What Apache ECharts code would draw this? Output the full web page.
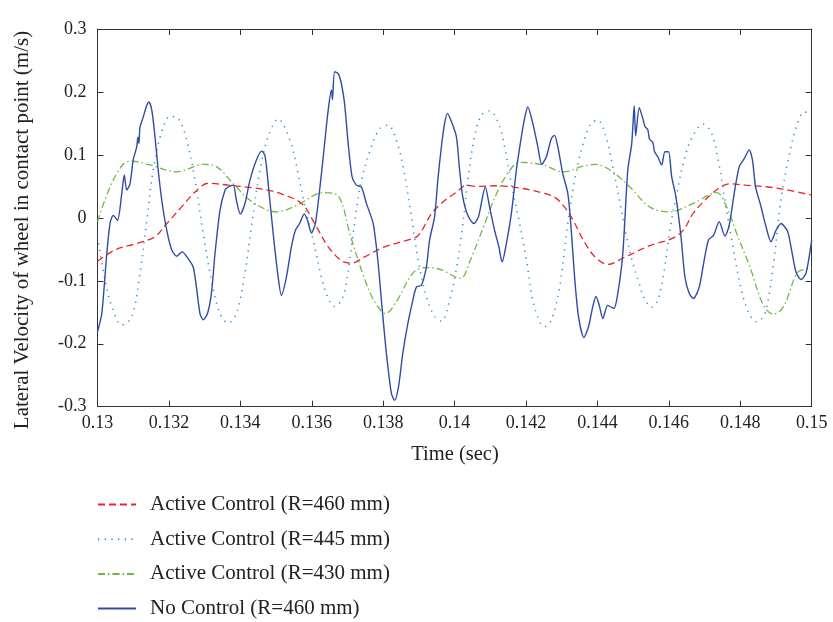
<!DOCTYPE html>
<html>
<head>
<meta charset="utf-8">
<script src="https://cdn.jsdelivr.net/npm/echarts@6/dist/echarts.min.js"></script>
<style>html,body{margin:0;padding:0;background:#fff}#c{width:833px;height:622px}</style>
</head>
<body>
<div id="c"></div>
<script>
const xTicks = [0.13,0.132,0.134,0.136,0.138,0.14,0.142,0.144,0.146,0.148,0.15];
const yTicks = [-0.3,-0.2,-0.1,0,0.1,0.2,0.3];
const seriesNames = ['Active Control (R=460 mm)','Active Control (R=445 mm)','Active Control (R=430 mm)','No Control (R=460 mm)'];

const red_t = [0.13,0.13049,0.13114,0.13161,0.13194,0.13235,0.13273,0.1331,0.13366,0.13431,0.13487,0.13506,0.13571,0.13608,0.13646,0.13683,0.13711,0.13748,0.13804,0.1387,0.13898,0.13936,0.13973,0.14006,0.14033,0.14057,0.14113,0.14187,0.14243,0.1428,0.14308,0.14332,0.1436,0.14393,0.1443,0.14468,0.14519,0.14552,0.14608,0.1464,0.14668,0.1471,0.14748,0.14771,0.14813,0.14878,0.14934,0.15];
const red_v = [-0.069,-0.051,-0.04,-0.03,-0.009,0.017,0.041,0.055,0.052,0.048,0.043,0.04,0.023,-0.009,-0.046,-0.068,-0.072,-0.062,-0.046,-0.035,-0.028,0.007,0.028,0.041,0.052,0.05,0.051,0.047,0.04,0.033,0.017,-0.004,-0.035,-0.062,-0.074,-0.065,-0.051,-0.043,-0.033,-0.02,0.007,0.033,0.05,0.054,0.052,0.049,0.044,0.036];

const dot_t = [0.13,0.13021,0.1304,0.13068,0.13096,0.13119,0.13138,0.13156,0.1318,0.13203,0.13226,0.1325,0.13273,0.13296,0.13319,0.13343,0.13366,0.13389,0.13413,0.13431,0.13455,0.13478,0.13506,0.13539,0.13562,0.13581,0.13604,0.13627,0.13646,0.13664,0.13688,0.13706,0.13725,0.13739,0.13767,0.13791,0.13814,0.13837,0.13856,0.13875,0.13898,0.13921,0.13944,0.13963,0.13986,0.14006,0.1402,0.14037,0.14056,0.14075,0.14098,0.14121,0.1414,0.14159,0.14182,0.14201,0.14219,0.14238,0.14252,0.14271,0.14294,0.14317,0.14336,0.1436,0.14382,0.14401,0.14424,0.14443,0.14462,0.1448,0.14499,0.14517,0.14531,0.14552,0.14569,0.14587,0.14606,0.14626,0.14645,0.14668,0.14696,0.1472,0.14738,0.14757,0.14776,0.14799,0.14822,0.14846,0.14869,0.14892,0.14911,0.14934,0.14957,0.1498,0.15];
const dot_v = [-0.03,-0.099,-0.141,-0.17,-0.157,-0.088,-0.004,0.076,0.137,0.161,0.158,0.123,0.06,-0.025,-0.099,-0.152,-0.167,-0.152,-0.088,-0.014,0.076,0.129,0.157,0.123,0.07,0.017,-0.035,-0.094,-0.128,-0.141,-0.125,-0.067,0.012,0.06,0.113,0.142,0.147,0.123,0.081,0.017,-0.067,-0.125,-0.157,-0.164,-0.131,-0.078,-0.025,0.06,0.129,0.163,0.17,0.153,0.113,0.054,-0.009,-0.067,-0.131,-0.165,-0.173,-0.162,-0.11,-0.009,0.06,0.118,0.15,0.155,0.129,0.081,0.028,-0.025,-0.072,-0.104,-0.128,-0.142,-0.131,-0.083,-0.009,0.049,0.097,0.131,0.149,0.134,0.092,0.028,-0.035,-0.104,-0.149,-0.165,-0.152,-0.078,0.017,0.092,0.144,0.168,0.166];

const grn_t = [0.13,0.13035,0.13073,0.13096,0.13147,0.13222,0.13297,0.13334,0.13381,0.13427,0.13502,0.13558,0.13633,0.13672,0.13709,0.13746,0.13774,0.13807,0.13839,0.13886,0.13923,0.1396,0.14016,0.14044,0.14081,0.14118,0.14155,0.14183,0.14248,0.14304,0.1436,0.14393,0.14435,0.14491,0.14547,0.14603,0.14668,0.14734,0.14762,0.1479,0.14827,0.14865,0.14893,0.14921,0.14958,0.14977,0.15];
const grn_v = [-0.006,0.049,0.086,0.09,0.084,0.073,0.085,0.081,0.054,0.028,0.0095,0.02,0.04,0.036,-0.03,-0.094,-0.131,-0.152,-0.131,-0.086,-0.079,-0.082,-0.096,-0.067,-0.014,0.039,0.076,0.088,0.084,0.073,0.082,0.085,0.076,0.049,0.017,0.0095,0.023,0.04,0.017,-0.025,-0.078,-0.139,-0.153,-0.141,-0.088,-0.082,-0.08];

const blu_t = [0.13,0.13012,0.13026,0.13035,0.13044,0.13056,0.13068,0.13075,0.13082,0.13091,0.131,0.1311,0.13113,0.13116,0.13119,0.13128,0.13138,0.13144,0.13152,0.13161,0.1317,0.1318,0.13194,0.13208,0.13222,0.13237,0.13254,0.13268,0.13277,0.13287,0.13296,0.13308,0.13319,0.13329,0.13343,0.13357,0.13366,0.1338,0.13389,0.134,0.13413,0.13427,0.13445,0.1346,0.13469,0.13478,0.13492,0.13505,0.13515,0.13529,0.13543,0.13554,0.13566,0.13579,0.13588,0.13599,0.1361,0.13622,0.13634,0.13646,0.13655,0.13658,0.13664,0.13674,0.13683,0.13692,0.13702,0.13713,0.13725,0.13739,0.13753,0.13772,0.13785,0.13795,0.13809,0.13823,0.13832,0.13843,0.13855,0.13869,0.13883,0.13893,0.13907,0.13921,0.1393,0.13944,0.13953,0.13963,0.13972,0.1398,0.13991,0.14005,0.14014,0.14023,0.14037,0.14054,0.14067,0.14086,0.14098,0.14112,0.14124,0.14133,0.14145,0.14159,0.14173,0.14187,0.14196,0.14205,0.14219,0.14233,0.14244,0.14257,0.14271,0.1428,0.14289,0.14303,0.14317,0.14326,0.14336,0.14347,0.14362,0.14375,0.14387,0.14396,0.14406,0.14415,0.14429,0.14446,0.14457,0.14471,0.14485,0.14496,0.14503,0.14507,0.14517,0.14527,0.14533,0.14541,0.14546,0.14555,0.1456,0.14569,0.1458,0.14589,0.14599,0.14608,0.1462,0.14634,0.14645,0.14657,0.14669,0.14685,0.14699,0.14711,0.14725,0.14741,0.14757,0.14769,0.14783,0.14797,0.14811,0.14825,0.14834,0.14843,0.14857,0.14872,0.14886,0.149,0.14914,0.14932,0.14942,0.14956,0.1497,0.14984,0.15];
const blu_v = [-0.181,-0.152,-0.057,-0.009,0.004,-0.004,0.039,0.068,0.044,0.054,0.092,0.113,0.128,0.118,0.144,0.16,0.179,0.184,0.171,0.129,0.076,0.028,-0.02,-0.051,-0.061,-0.054,-0.065,-0.078,-0.11,-0.152,-0.162,-0.152,-0.12,-0.057,0.012,0.044,0.049,0.052,0.028,0.006,0.023,0.06,0.092,0.106,0.099,0.054,-0.025,-0.09,-0.123,-0.094,-0.046,-0.02,-0.009,0.006,-0.004,-0.024,-0.009,0.044,0.107,0.171,0.203,0.188,0.232,0.229,0.213,0.181,0.118,0.065,0.052,0.049,0.023,-0.009,-0.067,-0.131,-0.215,-0.279,-0.29,-0.268,-0.215,-0.168,-0.131,-0.11,-0.107,-0.078,-0.035,0.002,0.06,0.113,0.15,0.166,0.153,0.129,0.076,0.033,0.004,-0.009,0.002,0.049,0.017,-0.02,-0.046,-0.07,-0.041,0.007,0.076,0.129,0.158,0.176,0.15,0.113,0.085,0.097,0.126,0.131,0.113,0.07,0.039,-0.014,-0.094,-0.157,-0.19,-0.173,-0.141,-0.125,-0.141,-0.16,-0.139,-0.144,-0.12,-0.057,0.076,0.118,0.178,0.13,0.175,0.158,0.145,0.14,0.125,0.12,0.105,0.097,0.084,0.105,0.105,0.065,0.033,-0.03,-0.094,-0.12,-0.128,-0.11,-0.067,-0.035,-0.028,-0.006,-0.029,-0.012,0.039,0.081,0.094,0.108,0.092,0.049,0.02,-0.014,-0.038,-0.02,-0.009,-0.021,-0.046,-0.086,-0.098,-0.088,-0.035];

function pairs(t, v) { return t.map((x, i) => [x, v[i]]); }

const FONT = '"Liberation Serif", "DejaVu Serif", serif';
const chart = echarts.init(document.getElementById('c'), null, {renderer: 'canvas'});
const axisLineStyle = {color: '#333', width: 1};
chart.setOption({
  animation: false,
  backgroundColor: '#fff',
  grid: {left: 97.5, right: 21.3, top: 29, bottom: 215.3, containLabel: false},
  xAxis: [{
    type: 'value', min: xTicks[0], max: xTicks[xTicks.length - 1], interval: 0.002,
    axisLine: {show: true, onZero: false, lineStyle: axisLineStyle},
    axisTick: {show: true, inside: true, length: 6, lineStyle: axisLineStyle},
    splitLine: {show: false},
    axisLabel: {margin: 8, color: '#222', fontFamily: FONT, fontSize: 18, formatter: v => String(+v.toFixed(3))}
  }, {
    type: 'value', position: 'top', min: xTicks[0], max: xTicks[xTicks.length - 1], interval: 0.002,
    axisLine: {show: true, onZero: false, lineStyle: axisLineStyle},
    axisTick: {show: true, inside: true, length: 6, lineStyle: axisLineStyle},
    splitLine: {show: false}, axisLabel: {show: false}
  }],
  yAxis: [{
    type: 'value', min: yTicks[0], max: yTicks[yTicks.length - 1], interval: 0.1,
    axisLine: {show: true, onZero: false, lineStyle: axisLineStyle},
    axisTick: {show: true, inside: true, length: 6, lineStyle: axisLineStyle},
    splitLine: {show: false},
    axisLabel: {margin: 11, color: '#222', fontFamily: FONT, fontSize: 18, formatter: v => String(+v.toFixed(1))}
  }, {
    type: 'value', position: 'right', min: yTicks[0], max: yTicks[yTicks.length - 1], interval: 0.1,
    axisLine: {show: true, onZero: false, lineStyle: axisLineStyle},
    axisTick: {show: true, inside: true, length: 6, lineStyle: axisLineStyle},
    splitLine: {show: false}, axisLabel: {show: false}
  }],
  legend: {
    orient: 'vertical', left: 97, top: 494, padding: 0, height: 128,
    itemWidth: 38, itemHeight: 14, itemGap: 13.7,
    itemStyle: {opacity: 0},
    textStyle: {fontFamily: FONT, fontSize: 21, color: '#222', lineHeight: 21, padding: [0, 0, 0, 9]},
    data: seriesNames
  },
  graphic: [
    {type: 'text', x: 22, y: 230, rotation: Math.PI / 2,
      style: {text: 'Lateral Velocity of wheel in contact point (m/s)', fontFamily: FONT, fontSize: 21, fill: '#222', align: 'center', verticalAlign: 'middle'}},
    {type: 'text', x: 455, y: 455,
      style: {text: 'Time (sec)', fontFamily: FONT, fontSize: 20.5, fill: '#222', align: 'center', verticalAlign: 'middle'}}
  ],
  series: [
    {name: seriesNames[0], type: 'line', data: pairs(red_t, red_v), showSymbol: false, symbol: 'none', smooth: 0.35,
      lineStyle: {color: '#e8262a', width: 1.3, type: [7, 4]}, itemStyle: {color: '#e8262a'}, z: 3},
    {name: seriesNames[1], type: 'line', data: pairs(dot_t, dot_v), showSymbol: false, symbol: 'none', smooth: 0.35,
      lineStyle: {color: '#2a8fd8', width: 1.6, type: [1.2, 5.5]}, itemStyle: {color: '#2a8fd8'}, z: 2},
    {name: seriesNames[2], type: 'line', data: pairs(grn_t, grn_v), showSymbol: false, symbol: 'none', smooth: 0.35,
      lineStyle: {color: '#6cbb3c', width: 1.3, type: [7, 3, 1.5, 3]}, itemStyle: {color: '#6cbb3c'}, z: 2},
    {name: seriesNames[3], type: 'line', data: pairs(blu_t, blu_v), showSymbol: false, symbol: 'none', smooth: 0.25,
      lineStyle: {color: '#2e4ca6', width: 1.4, type: 'solid'}, itemStyle: {color: '#2e4ca6'}, z: 4}
  ]
});
</script>
</body>
</html>
